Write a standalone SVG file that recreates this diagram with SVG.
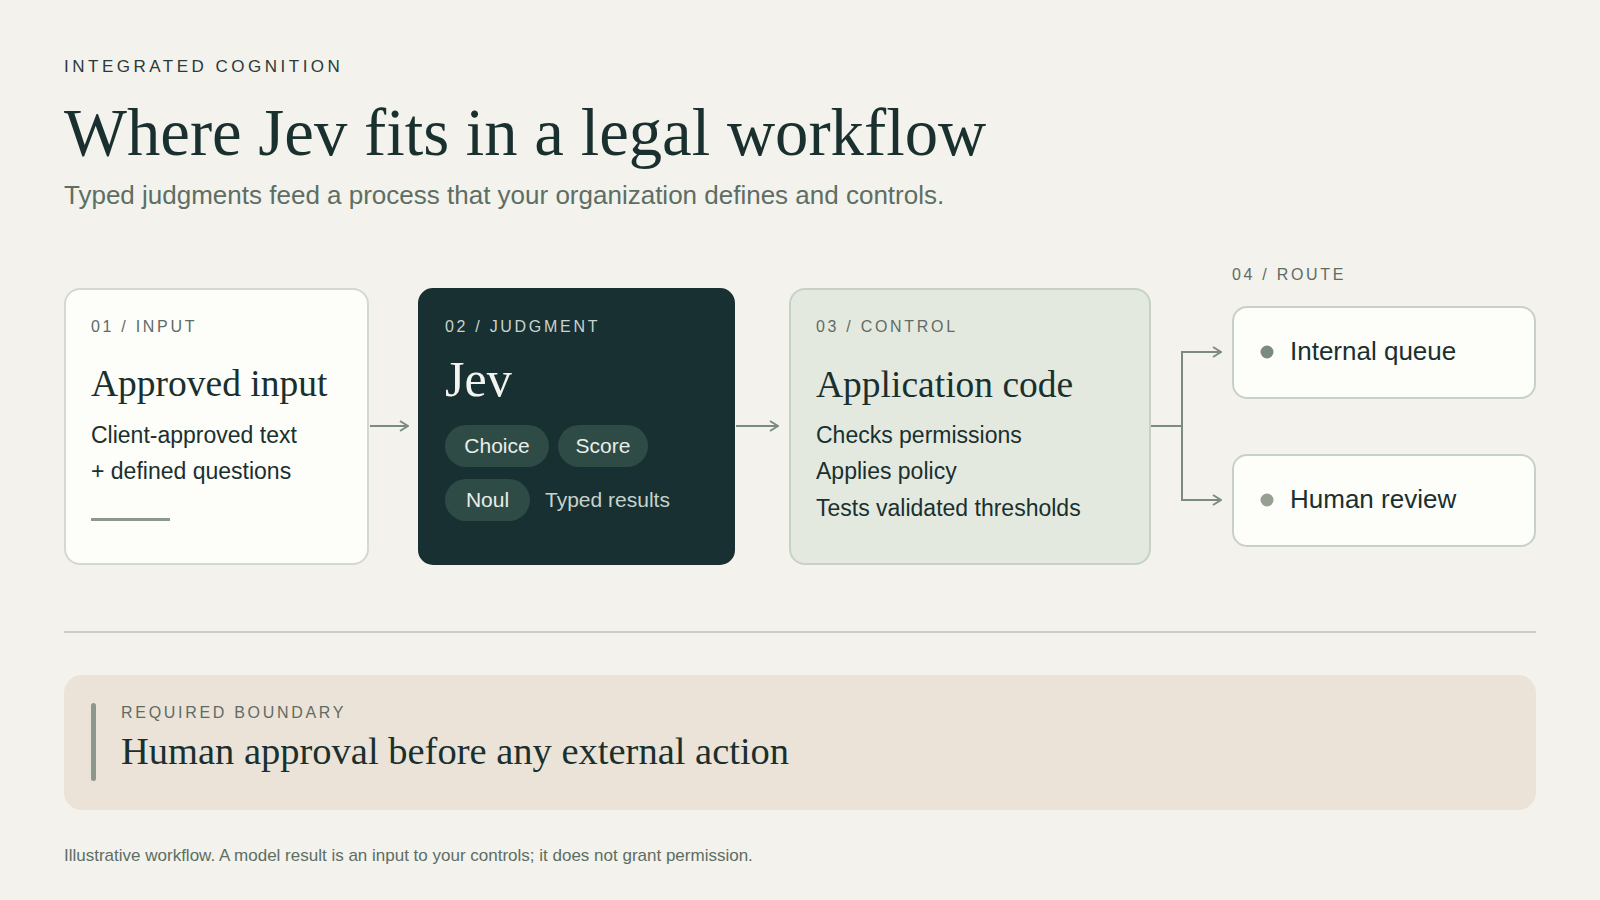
<svg xmlns="http://www.w3.org/2000/svg" width="1600" height="900" viewBox="0 0 1600 900">
  <defs>
    <marker id="chev" viewBox="0 0 10 12" refX="9" refY="6" markerWidth="10" markerHeight="12" markerUnits="userSpaceOnUse" orient="auto">
      <path d="M1,1 L9,6 L1,11" fill="none" stroke="#7b8b82" stroke-width="2"/>
    </marker>
    <style>
      .sans { font-family: "Liberation Sans", Arial, sans-serif; }
      .serif { font-family: "Liberation Serif", "Times New Roman", serif; }
      .eyebrow { font-family: "Liberation Sans", Arial, sans-serif; font-size: 16px; letter-spacing: 2.7px; fill: #5f6b65; }
      .cardtitle { font-family: "Liberation Serif", "Times New Roman", serif; font-size: 37.5px; fill: #19302f; }
      .body { font-family: "Liberation Sans", Arial, sans-serif; font-size: 23px; fill: #19302f; }
      .pill { fill: #2f4b46; }
      .pilltext { font-family: "Liberation Sans", Arial, sans-serif; font-size: 21px; fill: #e9eee9; text-anchor: middle; }
      .conn { fill: none; stroke: #7b8b82; stroke-width: 2; }
      .route { fill: #fdfdf9; stroke: #c7d1c5; stroke-width: 2; }
      .routetext { font-family: "Liberation Sans", Arial, sans-serif; font-size: 26px; fill: #19302f; }
    </style>
  </defs>
  <rect x="0" y="0" width="1600" height="900" fill="#f3f2ed"/>

  <g id="header">
    <text x="64" y="72" class="sans" font-size="17" letter-spacing="3.5" fill="#2a3a38">INTEGRATED COGNITION</text>
    <text x="64" y="155" class="serif" font-size="66.7" fill="#19302f">Where Jev fits in a legal workflow</text>
    <text x="64" y="204" class="sans" font-size="26" fill="#5d6e63">Typed judgments feed a process that your organization defines and controls.</text>
  </g>

  <g id="node-input">
    <rect x="65" y="289" width="303" height="275" rx="15" fill="#fdfdf9" stroke="#d3d8d0" stroke-width="2"/>
    <text x="91" y="332" class="eyebrow">01 / INPUT</text>
    <text x="91" y="396" class="cardtitle">Approved input</text>
    <text x="91" y="443" class="body">Client-approved text</text>
    <text x="91" y="479" class="body">+ defined questions</text>
    <line x1="91" y1="519.5" x2="170" y2="519.5" stroke="#8b988b" stroke-width="3"/>
  </g>

  <g id="node-judgment">
    <rect x="418" y="288" width="317" height="277" rx="15" fill="#183032"/>
    <text x="445" y="332" class="eyebrow" style="fill:#c9d4cd">02 / JUDGMENT</text>
    <text x="445" y="396" class="serif" font-size="50" fill="#f3f4ef">Jev</text>
    <rect x="445" y="425" width="104" height="42" rx="21" class="pill"/>
    <text x="497" y="453" class="pilltext">Choice</text>
    <rect x="558" y="425" width="90" height="42" rx="21" class="pill"/>
    <text x="603" y="453" class="pilltext">Score</text>
    <rect x="445" y="479" width="85" height="42" rx="21" class="pill"/>
    <text x="487.5" y="507" class="pilltext">Noul</text>
    <text x="545" y="507" class="sans" font-size="21" fill="#c7d3cc">Typed results</text>
  </g>

  <g id="node-control">
    <rect x="790" y="289" width="360" height="275" rx="15" fill="#e4e9e0" stroke="#c7d1c5" stroke-width="2"/>
    <text x="816" y="332" class="eyebrow">03 / CONTROL</text>
    <text x="816" y="397" class="cardtitle">Application code</text>
    <text x="816" y="443" class="body">Checks permissions</text>
    <text x="816" y="479" class="body">Applies policy</text>
    <text x="816" y="516" class="body">Tests validated thresholds</text>
  </g>

  <g id="route-label">
    <text x="1232" y="280" class="eyebrow">04 / ROUTE</text>
  </g>

  <g id="node-internal-queue">
    <rect x="1233" y="307" width="302" height="91" rx="14" class="route"/>
    <circle cx="1267" cy="352" r="6.5" fill="#7b8b82"/>
    <text x="1290" y="360" class="routetext">Internal queue</text>
  </g>

  <g id="node-human-review">
    <rect x="1233" y="455" width="302" height="91" rx="14" class="route"/>
    <circle cx="1267" cy="500" r="6.5" fill="#979e94"/>
    <text x="1290" y="508" class="routetext">Human review</text>
  </g>

  <g id="connectors">
    <line x1="370" y1="426" x2="408" y2="426" class="conn" marker-end="url(#chev)"/>
    <line x1="736" y1="426" x2="778" y2="426" class="conn" marker-end="url(#chev)"/>
    <path d="M1151,426 H1182" class="conn"/>
    <path d="M1221,352 H1182 V500 H1221" class="conn"/>
    <line x1="1182" y1="352" x2="1221" y2="352" class="conn" marker-end="url(#chev)"/>
    <line x1="1182" y1="500" x2="1221" y2="500" class="conn" marker-end="url(#chev)"/>
  </g>

  <g id="divider">
    <line x1="64" y1="632" x2="1536" y2="632" stroke="#c9cfc6" stroke-width="2"/>
  </g>

  <g id="boundary">
    <rect x="64" y="675" width="1472" height="135" rx="18" fill="#ebe3d7"/>
    <rect x="91" y="703" width="5" height="78" rx="2.5" fill="#8b988b"/>
    <text x="121" y="718" class="eyebrow">REQUIRED BOUNDARY</text>
    <text x="121" y="764" class="serif" font-size="38.5" fill="#19302f">Human approval before any external action</text>
  </g>

  <g id="footer">
    <text x="64" y="861" class="sans" font-size="17" fill="#5d6e63">Illustrative workflow. A model result is an input to your controls; it does not grant permission.</text>
  </g>
</svg>
